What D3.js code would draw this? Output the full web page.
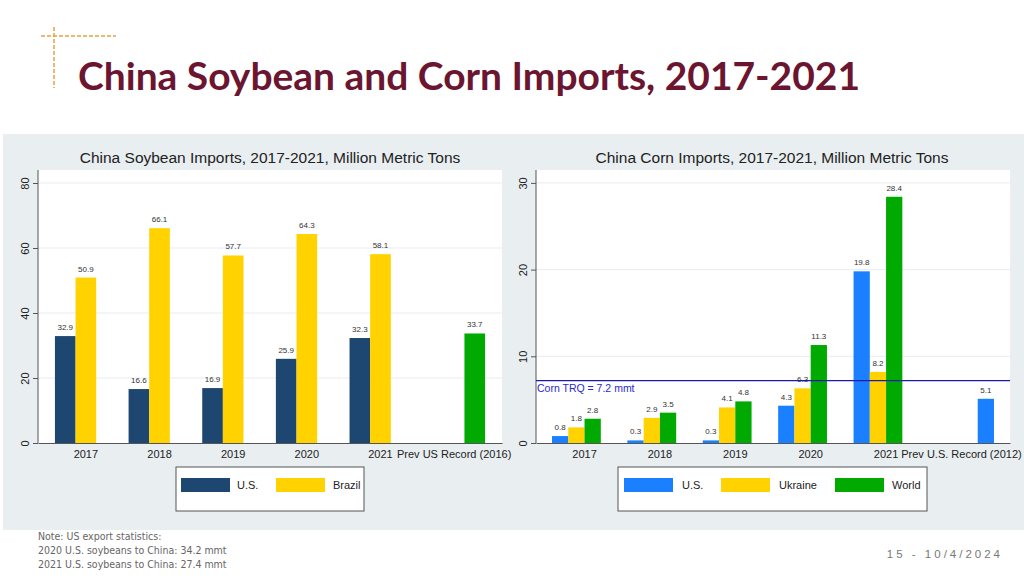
<!DOCTYPE html>
<html><head><meta charset="utf-8">
<script src="https://cdn.jsdelivr.net/npm/d3@7"></script>
<style>body{margin:0;background:#fff;}svg{display:block;}</style>
</head><body>
<svg id="c" width="1024" height="576"></svg>
<script>
// ---- data ----
const soyCategories = ["2017","2018","2019","2020","2021","Prev US Record (2016)"];
const soyUS     = [32.9, 16.6, 16.9, 25.9, 32.3, null];
const soyBrazil = [50.9, 66.1, 57.7, 64.3, 58.1, null];
const soyRecord = [null, null, null, null, null, 33.7];
const soyTicks  = [0, 20, 40, 60, 80];

const cornCategories = ["2017","2018","2019","2020","2021","Prev U.S. Record (2012)"];
const cornUS      = [0.8, 0.3, 0.3, 4.3, 19.8, null];
const cornUkraine = [1.8, 2.9, 4.1, 6.3, 8.2, null];
const cornWorld   = [2.8, 3.5, 4.8, 11.3, 28.4, null];
const cornRecord  = [null, null, null, null, null, 5.1];
const cornTicks   = [0, 10, 20, 30];
const cornTRQ     = 7.2;

const svg = d3.select("#c");
const NAVY="#1d4670", GOLD="#ffd200", GREEN="#00aa00", BLUE="#1a80ff";
const SANS="'Liberation Sans', Arial, sans-serif";

// slide decoration
svg.append("line").attr("x1",41).attr("x2",116).attr("y1",36).attr("y2",36)
  .attr("stroke","#e8a040").attr("stroke-width",1.5).attr("stroke-dasharray","4,2");
svg.append("line").attr("x1",54).attr("x2",54).attr("y1",27).attr("y2",88)
  .attr("stroke","#e8a040").attr("stroke-width",1.5).attr("stroke-dasharray","4,2");
svg.append("text").attr("x",78).attr("y",90)
  .attr("font-family","Lato, 'Open Sans', sans-serif").attr("font-weight","bold")
  .attr("font-size",38).attr("fill","#6b1530").attr("textLength",782).attr("lengthAdjust","spacingAndGlyphs")
  .text("China Soybean and Corn Imports, 2017-2021");

// gray panel
svg.append("rect").attr("x",3).attr("y",134).attr("width",1021).attr("height",396).attr("fill","#e9eef1");

function chart(opt){
  const g = svg.append("g");
  const x0 = d3.scaleBand().domain(opt.cats).range([opt.x0,opt.x1])
     .paddingInner(opt.pi).paddingOuter(opt.po);
  const x1 = d3.scaleBand().domain(d3.range(opt.series.length)).range([0,x0.bandwidth()]);
  const y = d3.scaleLinear().domain([0,opt.max]).range([443, 443 - opt.max*opt.ppu]);
  // plot area
  g.append("rect").attr("x",opt.x0).attr("y",170).attr("width",opt.x1-opt.x0).attr("height",273).attr("fill","#fff");
  // grid
  g.selectAll(".grid").data(opt.ticks.filter(t=>t>0)).join("line")
    .attr("x1",opt.x0).attr("x2",opt.x1).attr("y1",d=>y(d)).attr("y2",d=>y(d))
    .attr("stroke","#e6edf0").attr("stroke-width",1);
  // title
  g.append("text").attr("x",opt.titleX).attr("y",163).attr("text-anchor","middle")
    .attr("font-family",SANS).attr("font-size",15.5).attr("fill","#222")
    .text(opt.title);
  // bars
  opt.series.forEach((s,si)=>{
    const data = s.values.map((v,i)=>({c:opt.cats[i],v})).filter(d=>d.v!=null);
    g.selectAll(null).data(data).join("rect")
      .attr("x",d=>x0(d.c)+x1(si)).attr("width",x1.bandwidth())
      .attr("y",d=>y(d.v)).attr("height",d=>y(0)-y(d.v)).attr("fill",s.color);
    g.selectAll(null).data(data).join("text")
      .attr("x",d=>x0(d.c)+x1(si)+x1.bandwidth()/2).attr("y",d=>y(d.v)-6)
      .attr("text-anchor","middle").attr("font-family",SANS)
      .attr("font-size",8).attr("fill","#333").text(d=>d.v.toFixed(1));
  });
  // y axis
  const ya = g.append("g").attr("transform",`translate(${opt.x0},0)`)
    .call(d3.axisLeft(y).tickValues(opt.ticks).tickSize(5).tickPadding(4).tickFormat(d3.format("d")));
  ya.select(".domain").attr("stroke","#555").attr("d",`M-0,170V443`);
  ya.selectAll(".tick line").attr("stroke","#555");
  ya.selectAll(".tick text").attr("transform","rotate(-90)").attr("x",0).attr("y",-9)
    .attr("dy","0").attr("text-anchor","middle")
    .attr("font-family",SANS).attr("font-size",11).attr("fill","#222");
  // x axis
  const xa = g.append("g").attr("transform","translate(0,443)")
    .call(d3.axisBottom(x0).tickSize(0).tickPadding(7));
  xa.select(".domain").attr("stroke","#555");
  xa.selectAll(".tick text").attr("font-family",SANS).attr("font-size",11).attr("fill","#222");
  return {g,x0,y};
}

chart({cats:soyCategories, x0:38, x1:502, pi:0.16, po:0.23, max:84, ppu:3.25, ticks:soyTicks,
  title:"China Soybean Imports, 2017-2021, Million Metric Tons", titleX:270,
  series:[{values:soyUS,color:NAVY},{values:soyBrazil,color:GOLD},{values:soyRecord,color:GREEN}]});

const corn = chart({cats:cornCategories, x0:536, x1:1010, pi:0.137, po:0.2125, max:31.4, ppu:8.67, ticks:cornTicks,
  title:"China Corn Imports, 2017-2021, Million Metric Tons", titleX:772,
  series:[{values:cornUS,color:BLUE},{values:cornUkraine,color:GOLD},{values:cornWorld,color:GREEN},{values:cornRecord,color:BLUE}]});

corn.g.append("line").attr("x1",536).attr("x2",1010).attr("y1",corn.y(cornTRQ)).attr("y2",corn.y(cornTRQ))
  .attr("stroke","#1a1ab0").attr("stroke-width",1.3);
corn.g.append("text").attr("x",537).attr("y",corn.y(cornTRQ)+11)
  .attr("font-family",SANS).attr("font-size",10.5).attr("fill","#2a2ad0")
  .text("Corn TRQ = "+cornTRQ+" mmt");

// legends
function legend(x,w,items){
  const g = svg.append("g");
  g.append("rect").attr("x",x).attr("y",467).attr("width",w).attr("height",44)
    .attr("fill","#fff").attr("stroke","#555").attr("stroke-width",1);
  items.forEach(it=>{
    g.append("rect").attr("x",it.sx).attr("y",478).attr("width",49).attr("height",14).attr("fill",it.color);
    g.append("text").attr("x",it.tx).attr("y",489).attr("font-family",SANS)
      .attr("font-size",11).attr("fill","#222").text(it.label);
  });
}
legend(176,188,[{sx:181,tx:237,color:NAVY,label:"U.S."},{sx:276,tx:333,color:GOLD,label:"Brazil"}]);
legend(618,309,[{sx:624,tx:682,color:BLUE,label:"U.S."},{sx:721,tx:779,color:GOLD,label:"Ukraine"},{sx:835,tx:892,color:GREEN,label:"World"}]);

// footnotes
const notes = ["Note: US export statistics:","2020 U.S. soybeans to China: 34.2 mmt","2021 U.S. soybeans to China: 27.4 mmt"];
svg.selectAll(".note").data(notes).join("text")
  .attr("x",38).attr("y",(d,i)=>540+i*13.8)
  .attr("font-family","'Liberation Sans Narrow', 'DejaVu Sans Condensed', sans-serif")
  .attr("font-size",10.5).attr("fill","#666").text(d=>d);
svg.append("text").attr("x",1003).attr("y",558).attr("text-anchor","end")
  .attr("font-family",SANS).attr("font-size",11.5)
  .attr("letter-spacing",3).attr("fill","#777").text("15 - 10/4/2024");
</script>
</body></html>
